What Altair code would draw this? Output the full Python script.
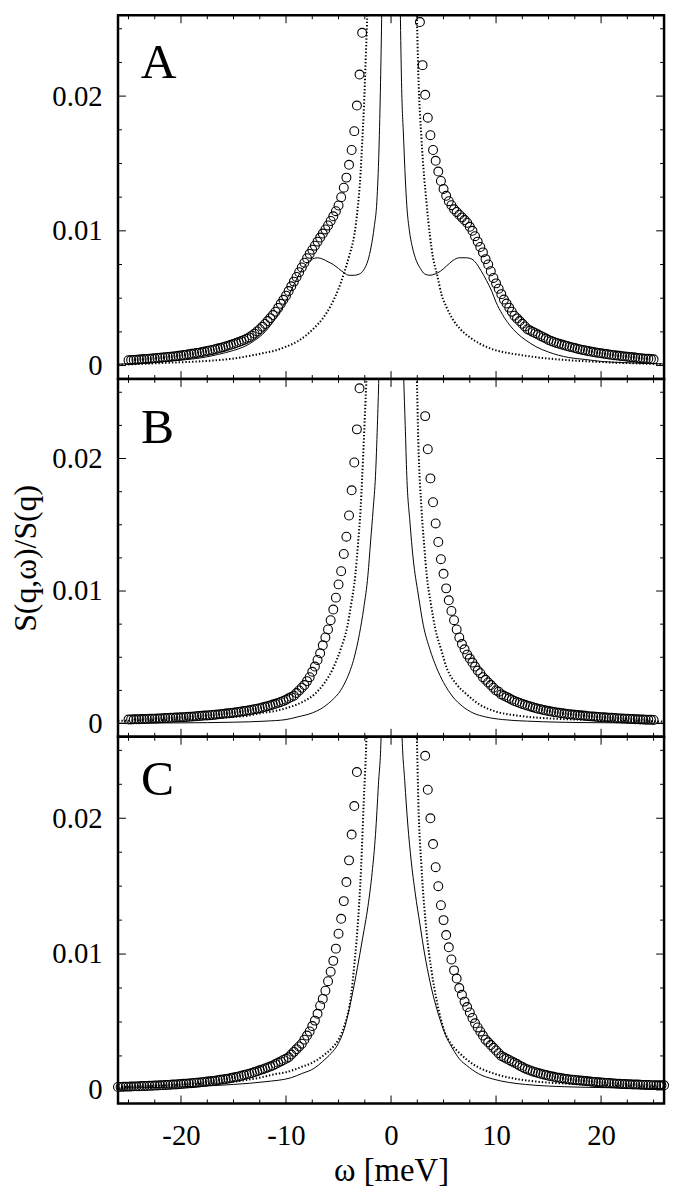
import altair as alt
import pandas as pd

FONT = "Liberation Serif"
STEP = 0.25
X_DOMAIN = [-26, 26]
Y_DOMAIN = [-0.001, 0.026]
X_LABELS = [-20, -10, 0, 10, 20]
Y_LABELS = [0, 0.01, 0.02]
X_MAJOR = [-20, -10, 0, 10, 20]
X_MINOR = [-25, -22.5, -17.5, -15, -12.5, -7.5, -5, -2.5, 2.5, 5, 7.5, 12.5, 15, 17.5, 22.5, 25]
Y_MAJOR = [0, 0.01, 0.02]
Y_MINOR = [0.0025, 0.005, 0.0075, 0.0125, 0.015, 0.0175, 0.0225, 0.025]

# ---------------- Panel A ----------------
# circles, left branch, omega = -25.00, -24.75, ... (ascending)
A_circ_left_start, A_circ_left_step = -25.0, STEP
A_circ_left = [
    0.00040, 0.00041, 0.00042, 0.00043, 0.00045, 0.00046, 0.00048, 0.00049, 0.00051, 0.00053,
    0.00054, 0.00056, 0.00058, 0.00060, 0.00062, 0.00064, 0.00066, 0.00068, 0.00070, 0.00072,
    0.00075, 0.00078, 0.00081, 0.00084, 0.00087, 0.00090, 0.00093, 0.00096, 0.00100, 0.00104,
    0.00108, 0.00112, 0.00116, 0.00121, 0.00126, 0.00131, 0.00136, 0.00142, 0.00148, 0.00154,
    0.00160, 0.00167, 0.00174, 0.00182, 0.00190, 0.00199, 0.00209, 0.00222, 0.00237, 0.00253,
    0.00270, 0.00289, 0.00309, 0.00330, 0.00352, 0.00375, 0.00400, 0.00428, 0.00458, 0.00488,
    0.00519, 0.00553, 0.00588, 0.00623, 0.00658, 0.00693, 0.00728, 0.00763, 0.00797, 0.00829,
    0.00860, 0.00890, 0.00920, 0.00950, 0.00980, 0.01010, 0.01040, 0.01073, 0.01108, 0.01146,
    0.01188, 0.01250, 0.01320, 0.01395, 0.01490, 0.01600, 0.01740, 0.01930, 0.02160, 0.02470,
]
# circles, right branch, omega = 2.75, 3.00, ... (ascending)
A_circ_right_start, A_circ_right_step = 2.75, STEP
A_circ_right = [
    0.0255, 0.0223, 0.0201, 0.0184, 0.0171, 0.0160, 0.0152, 0.0144, 0.0137, 0.0131,
    0.0126, 0.0122, 0.0119, 0.0116, 0.0114, 0.0112, 0.0110, 0.0108, 0.0106, 0.0103,
    0.0100, 0.0096, 0.0092, 0.0088, 0.0084, 0.0079, 0.0075, 0.0070, 0.0065, 0.0061,
    0.0057, 0.0053, 0.0049, 0.0046, 0.0043, 0.0040, 0.0037, 0.0035, 0.0033, 0.0031,
    0.0029, 0.0027, 0.0026, 0.0025, 0.0024, 0.0023, 0.0022, 0.0021, 0.0020, 0.0019,
    0.00182, 0.00175, 0.00168, 0.00162, 0.00156, 0.00150, 0.00145, 0.00140, 0.00135, 0.00130,
    0.00125, 0.00120, 0.00116, 0.00112, 0.00108, 0.00104, 0.00100, 0.00097, 0.00094, 0.00091,
    0.00088, 0.00085, 0.00082, 0.00079, 0.00077, 0.00074, 0.00072, 0.00070, 0.00068, 0.00066,
    0.00063, 0.00061, 0.00059, 0.00057, 0.00055, 0.00053, 0.00051, 0.00050, 0.00048, 0.00046,
]
A_solid_w = [-26.0, -24.0, -22.0, -20.0, -18.0, -16.5, -15.0, -14.0, -13.0, -12.0,
             -11.0, -10.0, -9.5, -9.0, -8.5, -8.0, -7.5, -7.0, -6.5, -6.0,
             -5.5, -5.0, -4.5, -4.0, -3.5, -3.0, -2.6, -2.2, -1.9, -1.6,
             -1.35, -1.15, -1.0, -0.88, -0.7,
             0.7, 0.88, 1.0, 1.2, 1.35, 1.5, 1.75, 2.0, 2.4, 2.8,
             3.2, 3.7, 4.2, 4.7, 5.3, 5.9, 6.5, 7.2, 7.7, 8.1,
             8.6, 9.1, 9.6, 10.0, 10.6, 11.3, 12.0, 12.8, 13.8, 15.0,
             16.9, 18.5, 20.1, 22.0, 24.0, 26.0]
A_solid_v = [0.00010, 0.00017, 0.00027, 0.00040, 0.00058, 0.00082, 0.00112, 0.00140, 0.00185, 0.0025,
             0.0035, 0.0048, 0.0056, 0.0064, 0.0071, 0.0076, 0.0079, 0.0080, 0.0079, 0.0077,
             0.0075, 0.0072, 0.0069, 0.0067, 0.0067, 0.0068, 0.0071, 0.0078, 0.0088, 0.0103,
             0.0122, 0.0160, 0.0210, 0.0265, 0.040,
             0.040, 0.0265, 0.0210, 0.0168, 0.0140, 0.0119, 0.0100, 0.0089, 0.0078, 0.0072,
             0.0068, 0.0067, 0.0068, 0.0070, 0.0074, 0.0078, 0.0080, 0.0080, 0.0079, 0.0076,
             0.0070, 0.0063, 0.0055, 0.0047, 0.0038, 0.0030, 0.0024, 0.0019, 0.0014, 0.0010,
             0.0006, 0.00045, 0.0003, 0.00022, 0.00016, 0.00012]
A_dot_w = [-26.0, -24.6, -21.4, -18.0, -15.2, -13.6, -12.0, -11.1, -10.0, -8.9,
           -8.0, -7.3, -6.5, -5.7, -5.0, -4.46, -4.0, -3.5, -3.2, -2.9,
           -2.75, -2.58, -2.4, -2.26, -2.1,
           2.2, 2.45, 2.6, 2.9, 3.4, 4.0, 4.4, 4.8, 5.3, 5.9,
           6.6, 7.5, 8.5, 9.7, 11.0, 12.2, 14.0, 16.9, 20.0, 23.0, 26.0]
A_dot_v = [0.00008, 0.0001, 0.0002, 0.00032, 0.0005, 0.0007, 0.00095, 0.0011, 0.0014, 0.0018,
           0.0023, 0.0028, 0.0035, 0.0045, 0.0057, 0.0069, 0.0081, 0.0097, 0.0115, 0.0143,
           0.0165, 0.0192, 0.0230, 0.0262, 0.032,
           0.032, 0.0262, 0.0216, 0.0168, 0.0119, 0.0080, 0.0067, 0.0053, 0.0043, 0.0034,
           0.0027, 0.0021, 0.0016, 0.0012, 0.00095, 0.0008, 0.0006, 0.0004, 0.00026, 0.00017, 0.0001]

# ---------------- Panel B ----------------
# circles, left branch listed from the centre outwards: omega = -3.00, -3.25, ...
B_circ_left_start, B_circ_left_step = -3.0, -STEP
B_circ_left = [
    0.0253, 0.0222, 0.0197, 0.0176, 0.0157, 0.0141, 0.0128, 0.0115, 0.0105, 0.0095,
    0.0086, 0.0078, 0.0071, 0.0065, 0.0059, 0.0053, 0.0048, 0.0043, 0.0039, 0.0035,
    0.0032, 0.0029, 0.0027, 0.0025, 0.0023, 0.0021, 0.0020, 0.0019, 0.00180, 0.00171,
    0.00163, 0.00156, 0.00149, 0.00143, 0.00137, 0.00131, 0.00126, 0.00121, 0.00116, 0.00112,
    0.00108, 0.00104, 0.00100, 0.00097, 0.00094, 0.00091, 0.00088, 0.00085, 0.00082, 0.00080,
    0.00077, 0.00075, 0.00073, 0.00071, 0.00069, 0.00067, 0.00065, 0.00063, 0.00061, 0.00060,
    0.00058, 0.00057, 0.00055, 0.00054, 0.00052, 0.00051, 0.00050, 0.00048, 0.00047, 0.00046,
    0.00045, 0.00044, 0.00043, 0.00042, 0.00041, 0.00040, 0.00039, 0.00038, 0.00037, 0.00037,
    0.00036, 0.00035, 0.00034, 0.00034, 0.00033, 0.00032, 0.00032, 0.00031, 0.00030,
]
B_circ_right_start, B_circ_right_step = 3.25, STEP
B_circ_right = [
    0.0232, 0.0207, 0.0185, 0.0167, 0.0151, 0.0137, 0.0124, 0.0113, 0.0102, 0.0093,
    0.0085, 0.0078, 0.0071, 0.0065, 0.0060, 0.0056, 0.0052, 0.0049, 0.0046, 0.0043,
    0.0040, 0.0038, 0.0035, 0.0033, 0.0031, 0.0029, 0.0027, 0.0025, 0.0024, 0.0022,
    0.0021, 0.0020, 0.0019, 0.0018, 0.0017, 0.00162, 0.00155, 0.00148, 0.00141, 0.00135,
    0.00129, 0.00123, 0.00117, 0.00112, 0.00107, 0.00102, 0.00098, 0.00094, 0.00090, 0.00087,
    0.00084, 0.00081, 0.00078, 0.00075, 0.00072, 0.00070, 0.00068, 0.00066, 0.00064, 0.00062,
    0.00060, 0.00058, 0.00056, 0.00054, 0.00053, 0.00051, 0.00050, 0.00048, 0.00047, 0.00045,
    0.00044, 0.00043, 0.00042, 0.00040, 0.00039, 0.00038, 0.00037, 0.00036, 0.00035, 0.00034,
    0.00033, 0.00032, 0.00031, 0.00030, 0.00029, 0.00029, 0.00028, 0.00027,
]
B_solid_w = [-26.0, -20.0, -15.0, -12.0, -10.0, -8.9, -7.5, -6.7, -5.7, -4.8,
             -4.2, -3.5, -3.0, -2.6, -2.2, -1.95, -1.7, -1.48, -1.3, -1.16, -1.0,
             1.0, 1.2, 1.35, 1.5, 1.8, 2.1, 2.6, 3.08, 3.7, 4.34,
             5.0, 5.9, 6.8, 7.8, 9.0, 10.6, 13.0, 16.0, 20.0, 26.0]
B_solid_v = [0.00003, 0.00005, 0.0001, 0.00018, 0.0003, 0.0005, 0.0008, 0.0011, 0.0017, 0.0025,
             0.0034, 0.0050, 0.0068, 0.0087, 0.0112, 0.0137, 0.0162, 0.0187, 0.0225, 0.0262, 0.032,
             0.032, 0.0262, 0.0225, 0.0187, 0.0152, 0.0125, 0.0097, 0.0074, 0.0056, 0.0042,
             0.0031, 0.0020, 0.0013, 0.0008, 0.0005, 0.0003, 0.00018, 0.0001, 0.00006, 0.00003]
B_dot_w = [-26.0, -20.0, -16.0, -13.6, -12.3, -11.0, -9.8, -8.5, -7.3, -6.4,
           -5.5, -4.8, -4.2, -3.8, -3.4, -3.15, -2.9, -2.75, -2.6, -2.45, -2.33, -2.2,
           2.2, 2.45, 2.6, 2.9, 3.15, 3.4, 3.8, 4.2, 4.8, 5.3,
           6.2, 7.2, 8.5, 10.0, 12.0, 13.8, 16.0, 20.0, 26.0]
B_dot_v = [0.0002, 0.0003, 0.00045, 0.0006, 0.0008, 0.00095, 0.0012, 0.0016, 0.0022, 0.0030,
           0.0042, 0.0056, 0.0072, 0.0090, 0.0112, 0.0135, 0.0162, 0.0185, 0.0212, 0.0240, 0.0262, 0.030,
           0.030, 0.0262, 0.0212, 0.0162, 0.0135, 0.0112, 0.0090, 0.0072, 0.0055, 0.0042,
           0.0030, 0.0022, 0.0014, 0.0009, 0.0006, 0.00045, 0.00035, 0.00025, 0.00015]

# ---------------- Panel C ----------------
C_circ_left_start, C_circ_left_step = -3.25, -STEP
C_circ_left = [
    0.0234, 0.0209, 0.0188, 0.0169, 0.0153, 0.0139, 0.0126, 0.0115, 0.0104, 0.0095,
    0.0087, 0.0080, 0.0073, 0.0067, 0.0062, 0.0056, 0.0051, 0.0047, 0.0043, 0.0040,
    0.0037, 0.0034, 0.0032, 0.0030, 0.0028, 0.0026, 0.0024, 0.0023, 0.0022, 0.0021,
    0.0020, 0.0019, 0.0018, 0.00172, 0.00165, 0.00158, 0.00151, 0.00144, 0.00137, 0.00131,
    0.00125, 0.00119, 0.00114, 0.00109, 0.00104, 0.00099, 0.00095, 0.00091, 0.00087, 0.00083,
    0.00080, 0.00077, 0.00074, 0.00071, 0.00068, 0.00065, 0.00063, 0.00061, 0.00059, 0.00057,
    0.00055, 0.00053, 0.00051, 0.00049, 0.00048, 0.00046, 0.00045, 0.00043, 0.00042, 0.00040,
    0.00039, 0.00038, 0.00037, 0.00036, 0.00035, 0.00034, 0.00033, 0.00032, 0.00031, 0.00030,
    0.00029, 0.00029, 0.00028, 0.00027, 0.00026, 0.00026, 0.00025, 0.00024, 0.00024, 0.00023,
    0.00022, 0.00022,
]
C_circ_right_start, C_circ_right_step = 3.25, STEP
C_circ_right = [
    0.0246, 0.0221, 0.0200, 0.0181, 0.0164, 0.0150, 0.0136, 0.0125, 0.0114, 0.0105,
    0.0096, 0.0088, 0.0082, 0.0075, 0.0070, 0.0065, 0.0061, 0.0057, 0.0053, 0.0049,
    0.0046, 0.0043, 0.0040, 0.0037, 0.0035, 0.0033, 0.0031, 0.0029, 0.0027, 0.0025,
    0.0024, 0.0023, 0.0022, 0.0021, 0.0020, 0.0019, 0.00178, 0.00168, 0.00158, 0.00150,
    0.00143, 0.00136, 0.00130, 0.00124, 0.00119, 0.00114, 0.00109, 0.00104, 0.00100, 0.00096,
    0.00092, 0.00089, 0.00086, 0.00083, 0.00080, 0.00077, 0.00075, 0.00073, 0.00071, 0.00069,
    0.00067, 0.00065, 0.00063, 0.00061, 0.00059, 0.00058, 0.00056, 0.00054, 0.00053, 0.00051,
    0.00050, 0.00049, 0.00048, 0.00046, 0.00045, 0.00044, 0.00043, 0.00042, 0.00041, 0.00040,
    0.00039, 0.00039, 0.00038, 0.00037, 0.00036, 0.00036, 0.00035, 0.00035, 0.00034, 0.00034,
    0.00034, 0.00034,
]
C_solid_w = [-26.0, -22.0, -18.0, -15.0, -12.0, -9.5, -8.5, -7.3, -6.5, -5.7,
             -5.1, -4.45, -3.75, -3.2, -2.7, -2.2, -1.8, -1.48, -1.2, -0.94, -0.8,
             0.8, 1.04, 1.3, 1.6, 1.9, 2.3, 2.75, 3.2, 3.7, 4.27,
             4.7, 5.1, 5.6, 6.05, 6.6, 7.2, 8.3, 9.7, 11.2, 12.8, 15.0, 18.0, 22.0, 26.0]
C_solid_v = [0.00012, 0.00018, 0.00028, 0.0004, 0.0006, 0.0009, 0.0012, 0.0016, 0.0021, 0.0027,
             0.0033, 0.0045, 0.0068, 0.0090, 0.0112, 0.0135, 0.0160, 0.0188, 0.0225, 0.0262, 0.034,
             0.034, 0.0262, 0.0228, 0.0195, 0.0170, 0.0145, 0.0122, 0.0100, 0.0080, 0.0062,
             0.0051, 0.0042, 0.0034, 0.0028, 0.0022, 0.0018, 0.0012, 0.0008, 0.00055, 0.0004,
             0.00028, 0.0002, 0.00014, 0.0001]
C_dot_w = [-26.0, -22.0, -18.0, -15.0, -12.5, -11.1, -10.0, -8.5, -7.5, -6.5,
           -5.6, -5.0, -4.45, -3.8, -3.5, -3.2, -2.85, -2.6, -2.33, -2.2,
           2.2, 2.45, 2.6, 2.9, 3.4, 3.85, 4.34, 5.1, 5.7, 6.4,
           7.8, 10.0, 12.0, 14.0, 17.0, 20.0, 23.0, 26.0]
C_dot_v = [0.0002, 0.0003, 0.00045, 0.0006, 0.0009, 0.00115, 0.0013, 0.0017, 0.0020, 0.0025,
           0.0031, 0.0037, 0.0047, 0.0070, 0.0092, 0.0118, 0.0164, 0.0212, 0.0262, 0.030,
           0.030, 0.0262, 0.0212, 0.0164, 0.0115, 0.0088, 0.0066, 0.0043, 0.0034, 0.0028,
           0.0019, 0.00115, 0.0008, 0.0006, 0.00045, 0.00035, 0.00027, 0.0002]


def grid(start, step, n):
    return [round(start + step * i, 4) for i in range(n)]


def circles(ls, lstep, lv, rs, rstep, rv):
    w = grid(ls, lstep, len(lv)) + grid(rs, rstep, len(rv))
    return pd.DataFrame({"w": w, "v": lv + rv})


def panel(letter, lx, ly, circ, sw, sv, dw, dv, height, bottom, ytitle):
    W = 551
    xs = alt.Scale(domain=X_DOMAIN, nice=False, zero=False)
    ys = alt.Scale(domain=Y_DOMAIN, nice=False, zero=False)
    if bottom:
        xax = alt.Axis(values=X_LABELS, labelExpr="'' + datum.value", ticks=False, tickSize=0,
                       domain=False, grid=False, labelFont=FONT, labelFontSize=29,
                       labelColor="black", labelPadding=18, labelFlush=False,
                       title="ω [meV]", titleFont=FONT, titleFontSize=33,
                       titleFontWeight="normal", titleColor="black", titlePadding=5)
    else:
        xax = None
    yax = alt.Axis(values=Y_LABELS, format=".2~f", ticks=False, tickSize=0, domain=False,
                   grid=False, labelFont=FONT, labelFontSize=29, labelColor="black",
                   labelPadding=16, labelFlush=False,
                   title=ytitle, titleFont=FONT, titleFontSize=32, titleFontWeight="normal",
                   titleColor="black", titlePadding=10)

    def X(f):
        return alt.X(f, type="quantitative", scale=xs, axis=xax, title="ω [meV]")

    def Y(f):
        return alt.Y(f, type="quantitative", scale=ys, axis=yax)

    layers = []
    # tick marks pointing inward on all four sides
    for vals, L in ((X_MAJOR, 8), (X_MINOR, 4)):
        d = pd.DataFrame({"t": vals})
        layers.append(alt.Chart(d).mark_rule(color="black", strokeWidth=1).encode(
            x=X("t"), y=alt.value(height), y2=alt.value(height - L)))
        layers.append(alt.Chart(d).mark_rule(color="black", strokeWidth=1).encode(
            x=X("t"), y=alt.value(0), y2=alt.value(L)))
    for vals, L in ((Y_MAJOR, 8), (Y_MINOR, 4)):
        d = pd.DataFrame({"t": vals})
        layers.append(alt.Chart(d).mark_rule(color="black", strokeWidth=1).encode(
            y=Y("t"), x=alt.value(0), x2=alt.value(L)))
        layers.append(alt.Chart(d).mark_rule(color="black", strokeWidth=1).encode(
            y=Y("t"), x=alt.value(W), x2=alt.value(W - L)))

    dot = pd.DataFrame({"w": dw, "v": dv})
    sol = pd.DataFrame({"w": sw, "v": sv})
    layers.append(alt.Chart(dot).mark_line(color="black", strokeWidth=2.0, strokeDash=[1.4, 2.0],
                                           clip=True, interpolate="monotone")
                  .encode(x=X("w"), y=Y("v"), order="w:Q"))
    layers.append(alt.Chart(sol).mark_line(color="black", strokeWidth=1, clip=True,
                                           interpolate="monotone")
                  .encode(x=X("w"), y=Y("v"), order="w:Q"))
    layers.append(alt.Chart(circ).mark_point(shape="circle", filled=False, size=80,
                                             strokeWidth=1.1, color="black", opacity=1)
                  .encode(x=X("w"), y=Y("v")))
    lab = pd.DataFrame({"lab": [letter]})
    layers.append(alt.Chart(lab).mark_text(font=FONT, fontSize=50, align="center",
                                           baseline="alphabetic", color="black")
                  .encode(text="lab:N", x=alt.value(lx), y=alt.value(ly)))
    return alt.layer(*layers).properties(
        width=W, height=height,
        view=alt.ViewBackground(stroke="black", strokeWidth=2.5, fill="white"))


cA = circles(A_circ_left_start, A_circ_left_step, A_circ_left,
             A_circ_right_start, A_circ_right_step, A_circ_right)
cB = circles(B_circ_left_start, B_circ_left_step, B_circ_left,
             B_circ_right_start, B_circ_right_step, B_circ_right)
cC = circles(C_circ_left_start, C_circ_left_step, C_circ_left,
             C_circ_right_start, C_circ_right_step, C_circ_right)

pA = panel("A", 41, 63, cA, A_solid_w, A_solid_v, A_dot_w, A_dot_v, 367, False, None)
pB = panel("B", 40, 65, cB, B_solid_w, B_solid_v, B_dot_w, B_dot_v, 361, False, "S(q,ω)/S(q)")
pC = panel("C", 40, 59, cC, C_solid_w, C_solid_v, C_dot_w, C_dot_v, 370, True, None)

chart = (
    alt.vconcat(pA, pB, pC, spacing=0, bounds="flush")
    .properties(padding={"left": 0, "top": 0, "right": 0, "bottom": 0}, background="white")
    .configure(font=FONT)
    .configure_view(stroke="black", strokeWidth=2.5)
)

chart.save("out.html", embed_options={"renderer": "svg", "actions": False})
